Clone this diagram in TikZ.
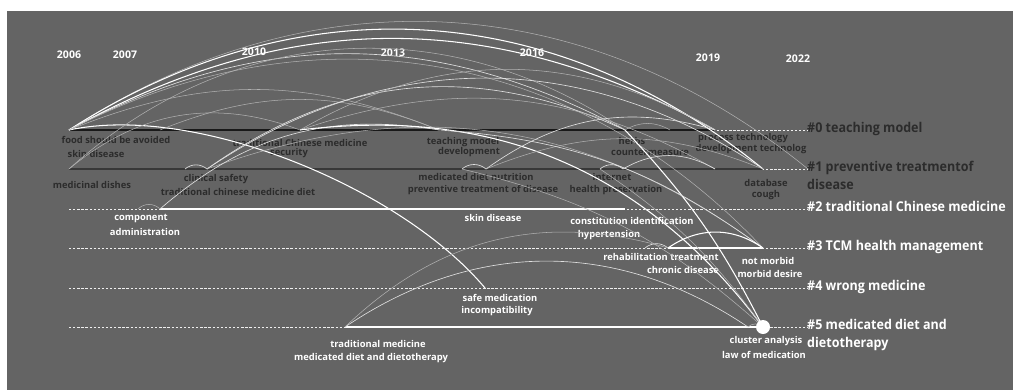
\documentclass[tikz,border=0pt]{standalone}
\usepackage{fontspec}
\setmainfont{Open Sans}
\newfontfamily\clusterfont[FakeStretch=0.93]{Open Sans}
\usetikzlibrary{positioning}
\definecolor{bgray}{HTML}{646464}
\definecolor{darktxt}{HTML}{2C2C2C}
\definecolor{rowone}{HTML}{383838}
\tikzset{
  arcw/.style={white, line width=0.9pt},
  arcm/.style={white!80!bgray, line width=0.55pt},
  arcl/.style={white!50!bgray, line width=0.45pt},
  dashrow/.style={white!90!bgray, dash pattern=on 2pt off 1.5pt, line width=0.45pt},
  lbldark/.style={font=\bfseries\fontsize{8}{9}\selectfont, text=darktxt},
  lblwhite/.style={font=\bfseries\fontsize{8}{9}\selectfont, text=white},
  yearlbl/.style={font=\bfseries\fontsize{9}{10}\selectfont, text=white},
  clusterlbl/.style={font=\clusterfont\bfseries\fontsize{11.5}{15}\selectfont, anchor=north west, align=left, inner sep=0pt}
}
\begin{document}
\begin{tikzpicture}[x=0.03cm, y=0.03cm]
\useasboundingbox (0,0) rectangle (1013,-390);
\fill[bgray] (7,-11) rectangle (1013,-390);

% points on the cluster rows
\coordinate (n0a) at (69,-130);  \coordinate (n0b) at (160,-130);
\coordinate (n0c) at (300,-130); \coordinate (n0d) at (439,-130);
\coordinate (n0e) at (625,-130); \coordinate (n0f) at (670,-130);
\coordinate (n0g) at (715,-130); \coordinate (e0) at (808,-130);
\coordinate (n1a) at (69,-169);  \coordinate (n1b) at (185,-169);
\coordinate (n1c) at (207,-169); \coordinate (n1d) at (462,-169);
\coordinate (n1e) at (486,-169); \coordinate (n1f) at (600,-169);
\coordinate (n1g) at (623,-169); \coordinate (n1h) at (715,-169);
\coordinate (n1i) at (763,-169); \coordinate (e1) at (808,-169);
\coordinate (s2) at (69,-209);   \coordinate (n2a) at (138,-209);
\coordinate (n2b) at (160,-209); \coordinate (n2c) at (625,-209);
\coordinate (e2) at (808,-209);
\coordinate (s3) at (69,-248);   \coordinate (n3a) at (645,-248);
\coordinate (n3b) at (668,-248); \coordinate (n3c) at (763,-248);
\coordinate (e3) at (808,-248);
\coordinate (s4) at (69,-288);   \coordinate (n4a) at (485,-288);
\coordinate (e4) at (808,-288);
\coordinate (s5) at (69,-327);   \coordinate (n5a) at (345,-327);
\coordinate (n5b) at (748,-327); \coordinate (n5c) at (763,-327);
\coordinate (e5) at (808,-327);

% rows
\draw[dashrow] (n0a) -- (e0);
\draw[dashrow] (n1a) -- (e1);
\draw[dashrow] (s2) -- (e2);
\draw[dashrow] (s3) -- (e3);
\draw[dashrow] (s4) -- (e4);
\draw[dashrow] (s5) -- (e5);
\draw[black!90, line width=2.4pt] (n0a) -- (n0g);
\draw[rowone, line width=2.4pt] (n1a) -- (n1i);
\draw[white, line width=1.6pt] (n2b) -- (n2c);
\draw[white, line width=1.6pt] (n3b) -- (n3c);
\draw[white, line width=1.6pt] (n5a) -- (n5c);

% years
\node[yearlbl] (y2006) at (69,-55) {2006};
\node[yearlbl] (y2007) at (125,-55) {2007};
\node[yearlbl] (y2010) at (254,-52) {2010};
\node[yearlbl] (y2013) at (393,-53) {2013};
\node[yearlbl] (y2016) at (532,-53) {2016};
\node[yearlbl] (y2019) at (708,-58) {2019};
\node[yearlbl] (y2022) at (798,-59) {2022};

% keywords
\node[lbldark] (k01) at (116,-140) {food should be avoided};
\node[lbldark] (k02) at (96,-154) {skin disease};
\node[lbldark] (k03) at (300,-143) {traditional Chinese medicine};
\node[lbldark] (k04) at (289,-153) {security};
\node[lbldark] (k05) at (463,-142) {teaching model};
\node[lbldark] (k06) at (469,-152) {development};
\node[lbldark] (k07) at (632,-141) {herbs};
\node[lbldark] (k08) at (650,-152) {countermeasure};
\node[lbldark] (k09) at (743,-138) {process technology};
\node[lbldark] (k10) at (751,-149) {development technolog};
\node[lbldark] (k11) at (92,-185) {medicinal dishes};
\node[lbldark] (k12) at (216,-179) {clinical safety};
\node[lbldark] (k13) at (238,-192) {traditional chinese medicine diet};
\node[lbldark] (k14) at (476,-177) {medicated diet nutrition};
\node[lbldark] (k15) at (483,-190) {preventive treatment of disease};
\node[lbldark] (k16) at (612,-177) {internet};
\node[lbldark] (k17) at (616,-190) {health preservation};
\node[lbldark] (k18) at (766,-183) {database};
\node[lbldark] (k19) at (766,-195) {cough};
\node[lblwhite] (k20) at (141,-219) {component};
\node[lblwhite] (k21) at (145,-232) {administration};
\node[lblwhite] (k22) at (493,-218) {skin disease};
\node[lblwhite] (k23) at (632,-221) {constitution identification};
\node[lblwhite] (k24) at (609,-235) {hypertension};
\node[lblwhite] (k25) at (661,-257) {rehabilitation treatment};
\node[lblwhite] (k26) at (683,-270) {chronic disease};
\node[lblwhite] (k27) at (768,-261) {not morbid};
\node[lblwhite] (k28) at (770,-274) {morbid desire};
\node[lblwhite] (k29) at (500,-298) {safe medication};
\node[lblwhite] (k30) at (497,-311) {incompatibility};
\node[lblwhite] (k31) at (378,-344) {traditional medicine};
\node[lblwhite] (k32) at (371,-358) {medicated diet and dietotherapy};
\node[lblwhite] (k33) at (766,-341) {cluster analysis};
\node[lblwhite] (k34) at (764,-355) {law of medication};

% cluster names
\node[clusterlbl, text=darktxt] (c0) at (807,-122) {\#0 teaching model};
\node[clusterlbl, text=darktxt] (c1) at (807,-161) {\#1 preventive treatmentof\\disease};
\node[clusterlbl, text=white] (c2) at (807,-201) {\#2 traditional Chinese medicine};
\node[clusterlbl, text=white] (c3) at (807,-240) {\#3 TCM health management};
\node[clusterlbl, text=white] (c4) at (807,-280) {\#4 wrong medicine};
\node[clusterlbl, text=white] (c5) at (807,-319) {\#5 medicated diet and\\dietotherapy};

% co-citation arcs
\draw[arcl] (n0a) to[bend left=36] (e1);
\draw[arcw] (n0a) to[bend left=36] (n1i);
\draw[arcw] (n0a) to[bend left=29] (n0g);
\draw[arcm] (n0a) to[bend left=28] (n0e);
\draw[arcl] (n0a) to[bend left=37] (n3c);
\draw[arcw] (n0a) to[out=12, in=130, looseness=0.75] (n4a);
\draw[arcl] (n0a) to[bend left=22] (n0d);
\draw[arcl] (n0b) to[bend left=22] (n0d);
\draw[arcl] (n1a) to[bend left=38] (n0e);
\draw[arcl] (n1a) to[bend left=30] (n0c);
\draw[arcm] (n1c) to[bend left=34] (n1i);
\draw[arcm] (n1c) to[bend left=30] (n0e);
\draw[arcl] (n1c) to[bend left=28] (n3c);
\draw[arcm] (n2b) to[bend left=25] (n0d);
\draw[arcl] (n0c) to[bend left=30] (n0g);
\draw[arcl] (n0c) to[bend left=24] (n1h);
\draw[arcw] (n0c) to[bend left=30] (n5c);
\draw[arcm] (n1e) to[bend left=26] (n0g);
\draw[arcl] (n1e) to[bend left=22] (n1i);
\draw[arcl] (n1d) to[bend left=14] (n5c);
\draw[arcw] (n0e) to[bend left=8] (n5c);
\draw[arcl] (n1f) to[bend left=10] (n5c);
\draw[arcm] (n0d) to[bend left=16] (n3c);
\draw[arcl] (n0e) to[bend left=30] (n0f);
\draw[arcm] (n1b) to[bend left=40] (n1c);
\draw[arcm] (n1d) to[bend left=40] (n1e);
\draw[arcm] (n1f) to[bend left=40] (n1g);
\draw[arcm] (n1g) to[bend left=30] (n1h);
\draw[arcl] (n2a) to[bend left=45] (n2b);
\draw[arcm] (n3a) to[bend left=40] (n3b);
\draw[arcw] (n3b) to[bend left=35] (n3c);
\draw[arcm] (n5a) to[bend left=34] (n5b);
\draw[arcl] (n5a) to[bend left=30] (n3b);
\draw[arcl] (n5b) to[bend left=45] (n5c);

\fill[white] (n5c) circle (7);
\end{tikzpicture}
\end{document}
